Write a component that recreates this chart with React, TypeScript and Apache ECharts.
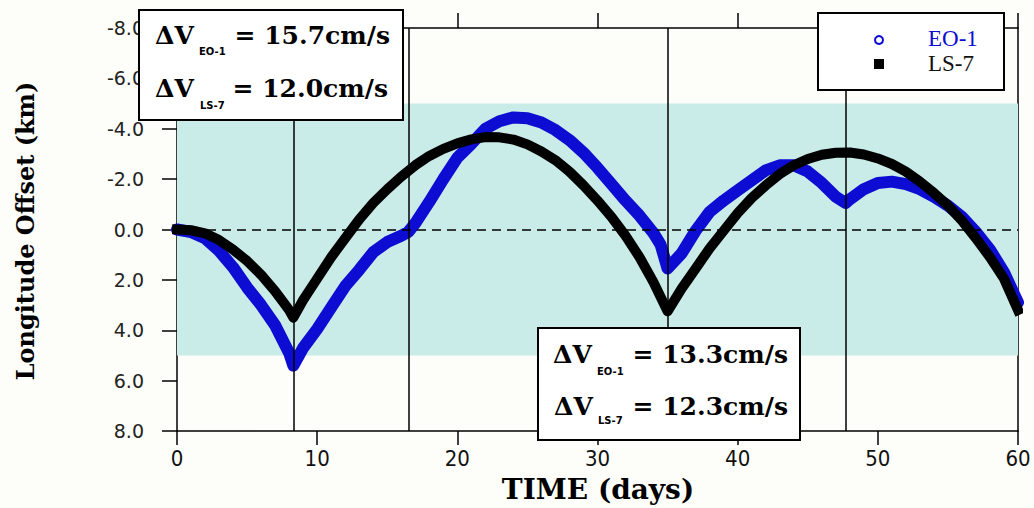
import React, { useEffect, useRef } from "react";
import * as echarts from "echarts";

// ---- data ----
const xTicks = [0, 10, 20, 30, 40, 50, 60];
const yTicks = [-8, -6, -4, -2, 0, 2, 4, 6, 8];
const bandRange = [-5, 5];
const maneuverDays = [8.3, 16.5, 35, 47.7];

const eo1Days = [
  0, 1, 2, 3, 4, 5, 6, 7, 8, 8.3, 9, 10, 11, 12, 13, 14, 15, 16, 16.5, 17, 18, 19, 20, 21, 22, 23, 24,
  25, 26, 27, 28, 29, 30, 31, 32, 33, 34, 34.5, 35, 36, 37, 38, 39, 40, 41, 42, 43, 44, 45, 46, 47, 47.7,
  48, 49, 50, 51, 52, 53, 54, 55, 56, 57, 58, 59, 60,
];
const eo1Offset = [
  0.0, 0.1, 0.35, 0.85, 1.5, 2.3, 3.0, 3.8, 4.9, 5.4, 4.7, 3.95, 3.1, 2.25, 1.6, 0.9, 0.5, 0.25, 0.1, -0.25,
  -1.1, -2.0, -2.85, -3.4, -4.0, -4.3, -4.45, -4.42, -4.25, -3.95, -3.55, -3.05, -2.45, -1.8, -1.15, -0.55,
  0.15, 0.6, 1.55, 0.95, 0.05, -0.7, -1.15, -1.55, -1.95, -2.35, -2.55, -2.55, -2.3, -1.85, -1.3, -1.05,
  -1.2, -1.6, -1.85, -1.9, -1.8, -1.6, -1.3, -0.95, -0.5, 0.1, 0.8, 1.7, 2.9,
];

const ls7Days = [
  0, 1, 2, 3, 4, 5, 6, 7, 8, 8.3, 9, 10, 11, 12, 13, 14, 15, 16, 17, 18, 19, 20, 21, 22, 23, 24, 25, 26, 27,
  28, 29, 30, 31, 32, 33, 34, 35, 36, 37, 38, 39, 40, 41, 42, 43, 44, 45, 46, 47, 48, 49, 50, 51, 52, 53,
  54, 55, 56, 57, 58, 59, 60,
];
const ls7Offset = [
  0.0, 0.03, 0.15, 0.42, 0.8, 1.25, 1.8, 2.45, 3.2, 3.5, 2.8, 1.95, 1.1, 0.35, -0.4, -1.05, -1.6, -2.1,
  -2.55, -2.92, -3.2, -3.42, -3.58, -3.67, -3.66, -3.57, -3.38, -3.1, -2.75, -2.3, -1.75, -1.15, -0.5, 0.25,
  1.1, 2.1, 3.25, 2.35, 1.55, 0.75, 0.05, -0.65, -1.25, -1.75, -2.2, -2.55, -2.8, -2.97, -3.05, -3.06, -2.98,
  -2.82, -2.6, -2.3, -1.9, -1.45, -0.95, -0.35, 0.35, 1.1, 1.95, 3.2,
];

const seriesNames = ["EO-1", "LS-7"];
const dvBoxes = [
  { eo1: "15.7", ls7: "12.0" },
  { eo1: "13.3", ls7: "12.3" },
];

const BLUE = "#0c0cd2";
const BG = "#fdfdf9";
const serifBold = (s: number) => `bold ${s}px "DejaVu Serif", serif`;

function dvLine(x0: number, xr: number, y: number, sub: string, subX: number, subY: number, val: string) {
  return [
    {
      type: "text",
      x: x0,
      y,
      z: 101,
      style: { text: "ΔV", font: serifBold(25), fill: "#000", align: "left", verticalAlign: "middle" },
    },
    {
      type: "text",
      x: subX,
      y: subY,
      z: 101,
      style: {
        text: sub,
        font: 'bold 10px "DejaVu Sans", sans-serif',
        fill: "#000",
        align: "left",
        verticalAlign: "middle",
      },
    },
    {
      type: "text",
      x: xr,
      y,
      z: 101,
      style: {
        text: `= ${val}cm/s`,
        font: serifBold(25),
        fill: "#000",
        align: "right",
        verticalAlign: "middle",
      },
    },
  ];
}

export default function App() {
  const ref = useRef<HTMLDivElement>(null);

  useEffect(() => {
    const chart = echarts.init(ref.current as HTMLDivElement, null, { renderer: "svg" });

    const axisLineStyle = { color: "#000", width: 1.5 };

    const graphic: any[] = [
      // y axis title
      {
        type: "text",
        x: 25,
        y: 231,
        rotation: Math.PI / 2,
        z: 100,
        style: {
          text: "Longitude Offset (km)",
          font: serifBold(24),
          fill: "#000",
          align: "center",
          verticalAlign: "middle",
        },
      },
      // x axis title
      {
        type: "text",
        x: 598,
        y: 489,
        z: 100,
        style: {
          text: "TIME (days)",
          font: serifBold(28),
          fill: "#000",
          align: "center",
          verticalAlign: "middle",
        },
      },
      // annotation box 1
      {
        type: "rect",
        z: 100,
        shape: { x: 139, y: 10, width: 264, height: 110 },
        style: { fill: "#fff", stroke: "#000", lineWidth: 2 },
      },
      ...dvLine(155, 390, 35, seriesNames[0], 199, 51, dvBoxes[0].eo1),
      ...dvLine(155, 388, 88, seriesNames[1], 200, 105, dvBoxes[0].ls7),
      // annotation box 2
      {
        type: "rect",
        z: 100,
        shape: { x: 538, y: 328, width: 262, height: 112 },
        style: { fill: "#fff", stroke: "#000", lineWidth: 2 },
      },
      ...dvLine(553, 788, 354, seriesNames[0], 597, 371, dvBoxes[1].eo1),
      ...dvLine(554, 788, 406, seriesNames[1], 598, 420, dvBoxes[1].ls7),
      // legend
      {
        type: "rect",
        z: 100,
        shape: { x: 818, y: 13, width: 186, height: 77 },
        style: { fill: "#fff", stroke: "#000", lineWidth: 2 },
      },
      {
        type: "circle",
        z: 101,
        shape: { cx: 879, cy: 40, r: 4 },
        style: { fill: "#fff", stroke: BLUE, lineWidth: 2 },
      },
      {
        type: "rect",
        z: 101,
        shape: { x: 874, y: 59, width: 10, height: 10 },
        style: { fill: "#000" },
      },
      {
        type: "text",
        x: 928,
        y: 38,
        z: 101,
        style: {
          text: seriesNames[0],
          font: '23px "Liberation Serif", serif',
          fill: BLUE,
          align: "left",
          verticalAlign: "middle",
        },
      },
      {
        type: "text",
        x: 928,
        y: 63,
        z: 101,
        style: {
          text: seriesNames[1],
          font: '23px "Liberation Serif", serif',
          fill: "#111",
          align: "left",
          verticalAlign: "middle",
        },
      },
    ];

    const option: any = {
      animation: false,
      backgroundColor: BG,
      grid: { left: 177, right: 16, top: 28, bottom: 77, containLabel: false },
      xAxis: [
        {
          type: "value",
          position: "bottom",
          min: xTicks[0],
          max: xTicks[xTicks.length - 1],
          interval: 10,
          axisLine: { show: true, onZero: false, lineStyle: axisLineStyle },
          axisTick: { show: true, inside: false, length: 14, lineStyle: axisLineStyle },
          axisLabel: {
            margin: 16,
            fontSize: 22,
            color: "#111",
            fontFamily: '"Liberation Sans Narrow", "DejaVu Sans Condensed", "Liberation Sans", sans-serif',
          },
          splitLine: { show: false },
        },
        {
          type: "value",
          position: "top",
          min: xTicks[0],
          max: xTicks[xTicks.length - 1],
          interval: 10,
          axisLine: { show: true, onZero: false, lineStyle: axisLineStyle },
          axisTick: { show: true, inside: false, length: 15, lineStyle: axisLineStyle },
          axisLabel: { show: false },
          splitLine: { show: false },
        },
      ],
      yAxis: [
        {
          type: "value",
          position: "left",
          inverse: true,
          min: yTicks[0],
          max: yTicks[yTicks.length - 1],
          interval: 2,
          axisLine: { show: true, onZero: false, lineStyle: axisLineStyle },
          axisTick: { show: true, inside: false, length: 15, lineStyle: axisLineStyle },
          axisLabel: {
            margin: 33,
            fontSize: 19,
            color: "#222",
            fontFamily: '"DejaVu Sans", sans-serif',
            formatter: (v: number) => v.toFixed(1),
          },
          splitLine: { show: false },
        },
        {
          type: "value",
          position: "right",
          inverse: true,
          min: yTicks[0],
          max: yTicks[yTicks.length - 1],
          interval: 2,
          axisLine: { show: true, onZero: false, lineStyle: axisLineStyle },
          axisTick: { show: false },
          axisLabel: { show: false },
          splitLine: { show: false },
        },
      ],
      series: [
        {
          name: "markers",
          type: "line",
          data: [],
          z: 1,
          silent: true,
          markArea: {
            silent: true,
            itemStyle: { color: "#c9ece9", opacity: 1 },
            data: [[{ yAxis: bandRange[0] }, { yAxis: bandRange[1] }]],
          },
          markLine: {
            silent: true,
            symbol: ["none", "none"],
            label: { show: false },
            lineStyle: { color: "#000", width: 1.5, type: "solid" },
            data: [
              ...maneuverDays.map((d) => ({ xAxis: d })),
              { yAxis: 0, lineStyle: { color: "#000", width: 1.5, type: [9, 6] } },
            ],
          },
        },
        {
          name: seriesNames[0],
          type: "line",
          data: eo1Days.map((d, i) => [d, eo1Offset[i]]),
          z: 3,
          clip: false,
          symbol: "none",
          lineStyle: { color: BLUE, width: 12, join: "round", cap: "round" },
        },
        {
          name: seriesNames[1],
          type: "line",
          data: ls7Days.map((d, i) => [d, ls7Offset[i]]),
          z: 4,
          clip: false,
          symbol: "none",
          lineStyle: { color: "#000", width: 10, join: "round", cap: "square" },
        },
      ],
      graphic,
    };

    chart.setOption(option);
    return () => chart.dispose();
  }, []);

  return (
    <div
      ref={ref}
      style={{ position: "fixed", left: 0, top: 0, width: 1034, height: 508, background: BG }}
    />
  );
}
